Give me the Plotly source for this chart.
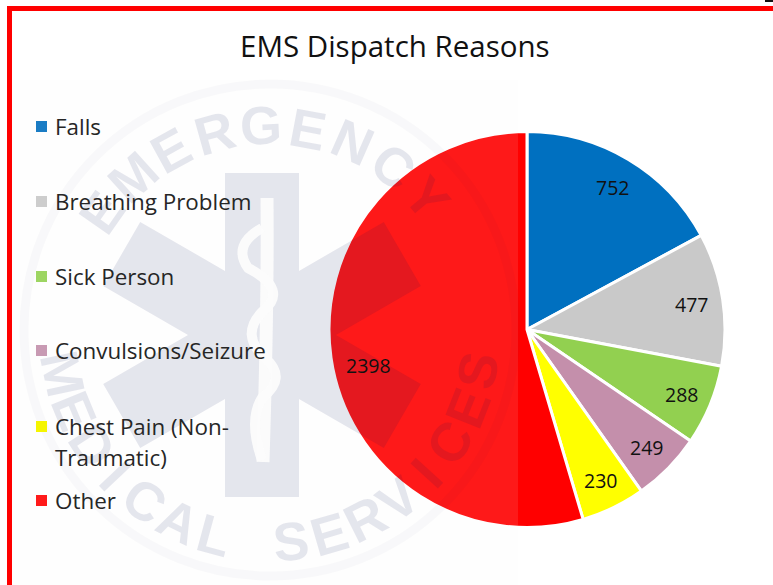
import numpy as np
import plotly.graph_objects as go

categories = ["Falls", "Breathing Problem", "Sick Person", "Convulsions/Seizure", "Chest Pain (Non-\nTraumatic)", "Other"]
values = [752, 477, 288, 249, 230, 2398]
colors = ["#0070C0", "#C9C9C9", "#92D050", "#C48FAB", "#FFFF00", "#FF0000"]
legend_rows = [126, 201, 276, 350, 426, 500]
legend_swatches = ["#1A7CC4", "#CDCDCD", "#9DD562", "#C89AB3", "#F5F500", "#FF1A1A"]

W, H = 773, 585
FONT = "Open Sans"
INK = "rgba(0,20,90,0.1)"


def px(x):
    return x / W


def py(y):
    return 1 - y / H


def rect(x0, y0, x1, y1, color, layer="above"):
    return dict(type="rect", xref="paper", yref="paper", x0=px(x0), x1=px(x1), y0=py(y0), y1=py(y1),
                fillcolor=color, line_width=0, layer=layer)


def poly(points, color):
    d = "M" + " L".join(f"{px(a):.5f},{py(b):.5f}" for a, b in points) + " Z"
    return dict(type="path", xref="paper", yref="paper", path=d, fillcolor=color, line_width=0, layer="above")


def curve(points, color, width):
    d = f"M{px(points[0][0]):.5f},{py(points[0][1]):.5f} " + " ".join(
        f"Q{px(a):.5f},{py(b):.5f} {px(c):.5f},{py(d_):.5f}" for (a, b), (c, d_) in zip(points[1::2], points[2::2]))
    return dict(type="path", xref="paper", yref="paper", path=d, line=dict(color=color, width=width), layer="above")


shapes = []
annotations = []

# Watermark: pale panel, ring, star of life, rod and lettering
shapes.append(rect(12, 80, 518, 585, "rgba(245,245,245,0.1)"))
cx, cy, rr = 270, 330, 246
shapes.append(dict(type="circle", xref="paper", yref="paper", x0=px(cx - rr), x1=px(cx + rr),
                   y0=py(cy + rr), y1=py(cy - rr), line=dict(color="rgba(0,20,80,0.025)", width=9), layer="above"))

sx, sy, half_w, half_l = 262, 335, 37, 162
star = []
for k in range(6):
    a = np.radians(60 * k)
    ux, uy = np.sin(a), -np.cos(a)
    vx, vy = np.cos(a), np.sin(a)
    star.append((sx + ux * half_l - vx * half_w, sy + uy * half_l - vy * half_w))
    star.append((sx + ux * half_l + vx * half_w, sy + uy * half_l + vy * half_w))
    b = a + np.radians(30)
    inner = half_w / np.sin(np.radians(30))
    star.append((sx + np.sin(b) * inner, sy - np.cos(b) * inner))
shapes.append(poly(star, INK))

shapes.append(curve([(267, 198), (268, 300), (263, 462)], "rgba(252,252,252,0.95)", 13))
shapes.append(curve([(262, 228), (232, 245), (248, 268), (290, 290), (262, 312),
                     (240, 335), (265, 358), (288, 378), (262, 398), (248, 420), (262, 460)],
                    "rgba(252,252,252,0.95)", 10))

top_word = "EMERGENCY"
for ch, ang in zip(top_word, np.linspace(-55, 50, len(top_word))):
    a = np.radians(ang)
    annotations.append(dict(text=ch, x=px(cx + 205 * np.sin(a)), y=py(cy - 205 * np.cos(a)), xref="paper", yref="paper",
                            showarrow=False, textangle=float(ang), xanchor="center", yanchor="middle",
                            font=dict(family="Liberation Sans", size=54, weight=700, color=INK)))
bottom_word = "MEDICAL SERVICES"
for ch, ang in zip(bottom_word, np.linspace(78, -79, len(bottom_word))):
    if ch == " ":
        continue
    a = np.radians(ang)
    annotations.append(dict(text=ch, x=px(cx - 212 * np.sin(a)), y=py(cy + 212 * np.cos(a)), xref="paper", yref="paper",
                            showarrow=False, textangle=float(ang), xanchor="center", yanchor="middle",
                            font=dict(family="Liberation Sans", size=54, weight=700, color=INK)))

# Frame and corner mark
shapes.append(rect(7, 6, W, 11, "#FF0000"))
shapes.append(rect(7, 6, 12, H, "#FF0000"))
shapes.append(rect(765, 0, W, 2, "#111111"))

# Legend
for name, row, sw in zip(categories, legend_rows, legend_swatches):
    shapes.append(rect(36, row - 5, 47, row + 6, sw))
    for i, line in enumerate(name.split("\n")):
        annotations.append(dict(text=line, x=px(52.5), y=py(row + i * 31), xref="paper", yref="paper",
                                showarrow=False, xanchor="left", yanchor="middle",
                                font=dict(family=FONT, size=22.4, color="#262626")))

annotations.append(dict(text="EMS Dispatch Reasons", x=px(394.5), y=py(46), xref="paper", yref="paper", showarrow=False,
                        xanchor="center", yanchor="middle", font=dict(family=FONT, size=29.5, color="#111111")))

# Pie geometry and value labels
pie_left, pie_right, pie_top, pie_bottom = 329, 725, 131, 528
pcx, pcy, pr = (pie_left + pie_right) / 2, (pie_top + pie_bottom) / 2, (pie_right - pie_left) / 2
mids = (np.cumsum(values) - np.array(values) / 2) / sum(values) * 2 * np.pi
for v, m in zip(values, mids):
    nudge = 12 if v == max(values) else 1
    annotations.append(dict(text=str(v), x=px(pcx + 0.84 * pr * np.sin(m) + nudge / 2),
                            y=py(pcy - 0.84 * pr * np.cos(m) + nudge),
                            xref="paper", yref="paper", showarrow=False, xanchor="center", yanchor="middle",
                            font=dict(family=FONT, size=19.5, color="#111111")))

fig = go.Figure(go.Pie(
    labels=[c.replace("\n", " ") for c in categories], values=values, sort=False, direction="clockwise", rotation=0,
    marker=dict(colors=colors, line=dict(color="white", width=3)),
    textinfo="none",
    domain=dict(x=[px(pie_left), px(pie_right)], y=[py(pie_bottom), py(pie_top)]),
    showlegend=False, hoverinfo="label+value",
))
fig.update_layout(width=W, height=H, margin=dict(l=0, r=0, t=0, b=0), paper_bgcolor="white",
                  shapes=shapes, annotations=annotations)
fig.write_html("out.html", config={"displayModeBar": False},
               post_script="document.body.style.margin='0';document.body.style.overflow='hidden';")
